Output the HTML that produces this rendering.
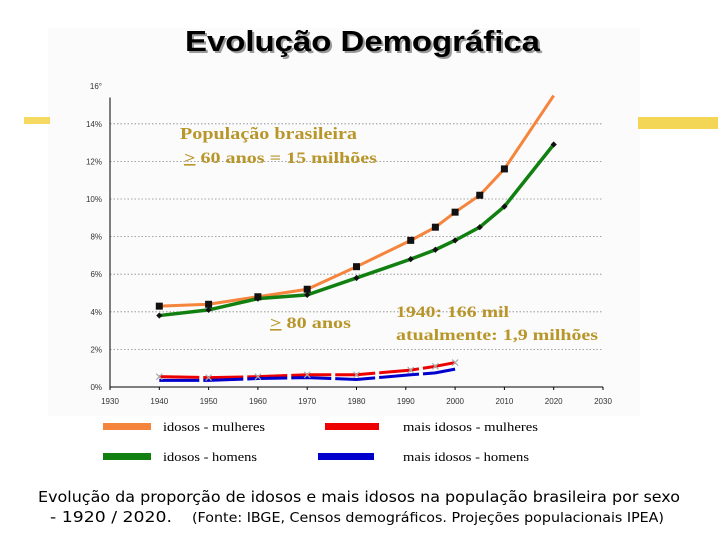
<!DOCTYPE html>
<html><head><meta charset="utf-8"><style>
body{margin:0;background:#fff}
svg{display:block}
</style></head><body>
<svg width="720" height="540" xmlns="http://www.w3.org/2000/svg">
<rect x="48" y="28" width="592" height="388" fill="#fbfbfb"/>
<rect x="24" y="117" width="26" height="7" fill="#f2cf3a" opacity="0.8"/>
<rect x="638" y="117" width="80" height="12" fill="#f2cf3a" opacity="0.85"/>
<text x="187" y="53" textLength="355" lengthAdjust="spacingAndGlyphs" font-family="Liberation Sans, sans-serif" font-weight="bold" font-size="29" fill="#999">Evolução Demográfica</text>
<text x="185" y="51" textLength="355" lengthAdjust="spacingAndGlyphs" font-family="Liberation Sans, sans-serif" font-weight="bold" font-size="29" fill="#000">Evolução Demográfica</text>
<g id="plot"></g>
<g font-family="Liberation Serif, serif" font-weight="bold" fill="#b8962a">
<text x="180" y="139" font-size="17" textLength="177" lengthAdjust="spacingAndGlyphs">População brasileira</text>
<text x="184" y="163" font-size="16" textLength="193" lengthAdjust="spacingAndGlyphs"><tspan text-decoration="underline">&gt;</tspan> 60 anos = 15 milhões</text>
<text x="270" y="328" font-size="16" textLength="81" lengthAdjust="spacingAndGlyphs"><tspan text-decoration="underline">&gt;</tspan> 80 anos</text>
<text x="396" y="317" font-size="16" textLength="113" lengthAdjust="spacingAndGlyphs">1940: 166 mil</text>
<text x="396" y="340" font-size="16" textLength="202" lengthAdjust="spacingAndGlyphs">atualmente: 1,9 milhões</text>
</g>
<g font-family="Liberation Serif, serif" font-size="13" fill="#000">
<rect x="103" y="423" width="48" height="7" fill="#f5843c"/>
<text x="163" y="431" textLength="102" lengthAdjust="spacingAndGlyphs">idosos - mulheres</text>
<rect x="103" y="453" width="48" height="7" fill="#118011"/>
<text x="163" y="461" textLength="94" lengthAdjust="spacingAndGlyphs">idosos - homens</text>
<rect x="325" y="423" width="54" height="7" fill="#ee0000"/>
<text x="403" y="431" textLength="135" lengthAdjust="spacingAndGlyphs">mais idosos - mulheres</text>
<rect x="318" y="453" width="56" height="7" fill="#0000cc"/>
<text x="403" y="461" textLength="126" lengthAdjust="spacingAndGlyphs">mais idosos - homens</text>
</g>
<g font-family="DejaVu Sans, sans-serif" fill="#000">
<text x="38" y="502" textLength="642" lengthAdjust="spacingAndGlyphs" font-size="15.5">Evolução da proporção de idosos e mais idosos na população brasileira por sexo</text>
<text x="50" y="522" textLength="122" lengthAdjust="spacingAndGlyphs" font-size="15.5">- 1920 / 2020.</text>
<text x="192" y="522" textLength="472" lengthAdjust="spacingAndGlyphs" font-size="13">(Fonte: IBGE, Censos demográficos. Projeções populacionais IPEA)</text>
</g>
</svg>
<script>
const years=[1940,1950,1960,1970,1980,1991,1996,2000,2005,2010,2020];
const women60=[4.3,4.4,4.8,5.2,6.4,7.8,8.5,9.3,10.2,11.6,15.5];
const men60=[3.8,4.1,4.7,4.9,5.8,6.8,7.3,7.8,8.5,9.6,12.9];
const years80=[1940,1950,1960,1970,1980,1991,1996,2000];
const women80=[0.55,0.5,0.55,0.65,0.65,0.9,1.1,1.3];
const men80=[0.35,0.35,0.45,0.5,0.4,0.65,0.75,0.95];
const xTicks=[1930,1940,1950,1960,1970,1980,1990,2000,2010,2020,2030];
const yTicks=[0,2,4,6,8,10,12,14];
const NS='http://www.w3.org/2000/svg';
const X=y=>110+(y-1930)*4.93;
const Y=v=>387-v*18.8;
const g=document.getElementById('plot');
function mk(t,a){const e=document.createElementNS(NS,t);for(const k in a)e.setAttribute(k,a[k]);g.appendChild(e);return e;}
yTicks.forEach(v=>{
 if(v>0){const l=mk('line',{x1:X(1930),x2:X(2030),y1:Y(v),y2:Y(v),stroke:'#888','stroke-width':0.8,'stroke-dasharray':'1.5,2'});
 
 }
 const t=mk('text',{x:X(1930)-8,y:Y(v)+3,'text-anchor':'end','font-family':'Liberation Sans, sans-serif','font-size':8,fill:'#333'});
 t.textContent=v+'%';
 
 
});
const t16=mk('text',{x:X(1930)-8,y:Y(16)+3,'text-anchor':'end','font-family':'Liberation Sans, sans-serif','font-size':8,fill:'#333'});
t16.textContent='16°';


xTicks.forEach(v=>{
 const t=mk('text',{x:X(v),y:Y(0)+17,'text-anchor':'middle','font-family':'Liberation Sans, sans-serif','font-size':8,fill:'#333'});
 t.textContent=v;
 
 
 const k=mk('line',{x1:X(v),x2:X(v),y1:Y(0),y2:Y(0)+3,stroke:'#000'});
 
 
});
const ya=mk('line',{x1:X(1930),x2:X(1930),y1:Y(15.4),y2:Y(0),stroke:'#000','stroke-width':1});


const xa=mk('line',{x1:X(1930),x2:X(2030),y1:Y(0),y2:Y(0),stroke:'#000','stroke-width':1});


function pts(xs,vs){return xs.map((x,i)=>X(x)+','+Y(vs[i])).join(' ');}
const l1=mk('polyline',{points:pts(years,women60),fill:'none',stroke:'#f5843c','stroke-width':3});


const l2=mk('polyline',{points:pts(years,men60),fill:'none',stroke:'#118011','stroke-width':3.5});


const l3=mk('polyline',{points:pts(years80,women80),fill:'none',stroke:'#ee0000','stroke-width':3,'stroke-dasharray':'40,4'});


const l4=mk('polyline',{points:pts(years80,men80),fill:'none',stroke:'#0000cc','stroke-width':3,'stroke-dasharray':'40,4'});


years.forEach((y,i)=>{
 if(y<2020){const s=mk('rect',{x:X(y)-3.5,y:Y(women60[i])-3.5,width:7,height:7,fill:'#111'});
 
 }
 const d=mk('rect',{x:X(y)-2.2,y:Y(men60[i])-2.2,width:4.4,height:4.4,fill:'#111',transform:`rotate(45 ${X(y)} ${Y(men60[i])})`});
 
 
});
years80.forEach((y,i)=>{
 const cx=X(y),cy=Y(women80[i]);
 const p=mk('path',{d:`M${cx-3},${cy-3}L${cx+3},${cy+3}M${cx-3},${cy+3}L${cx+3},${cy-3}`,stroke:'#aaa','stroke-width':1.2});
 
 
});
</script>
</body></html>
